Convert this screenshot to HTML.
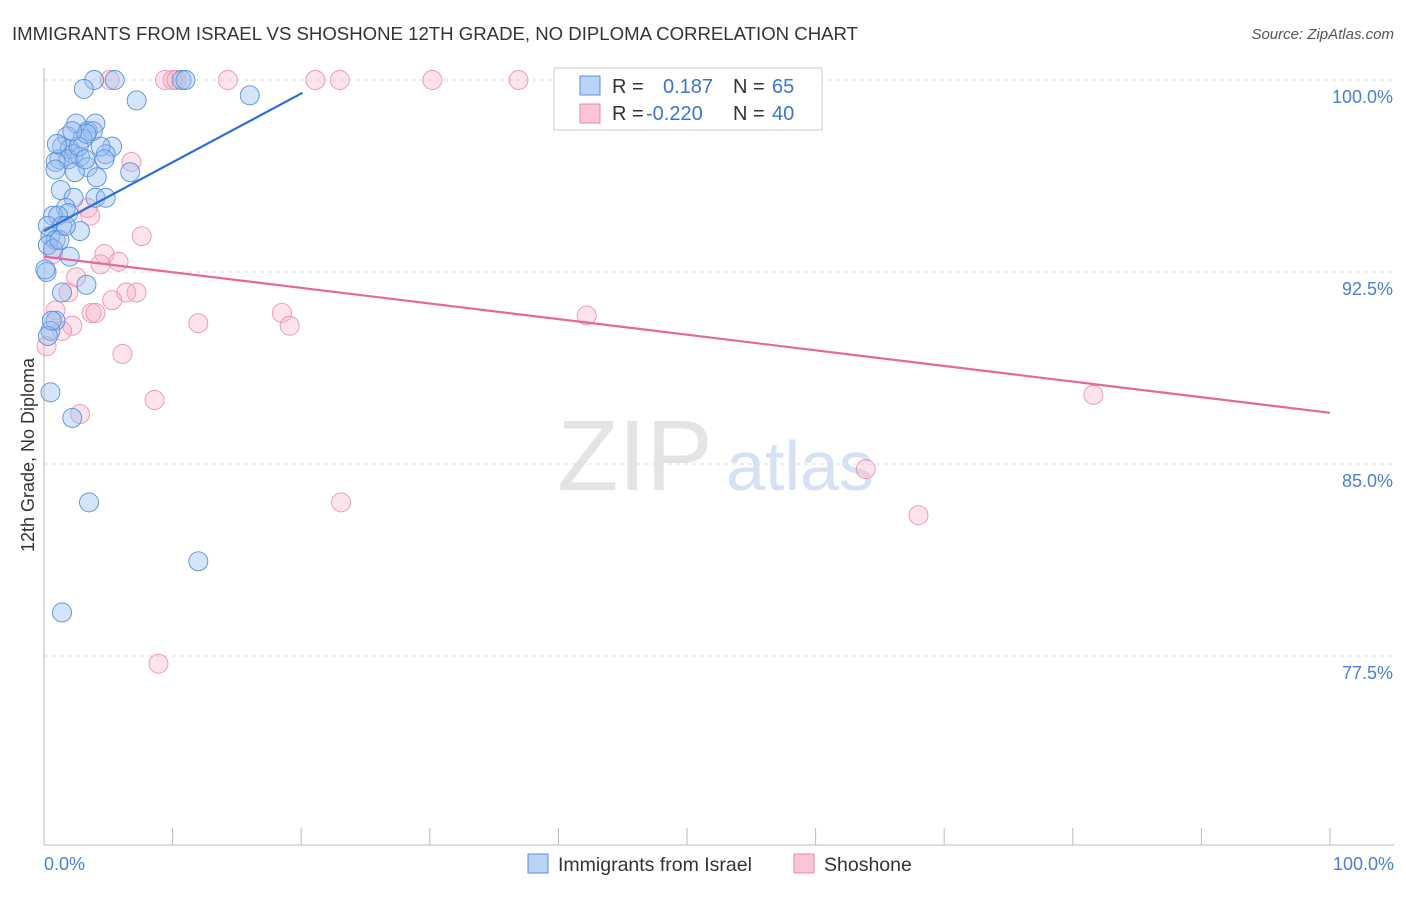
<!DOCTYPE html>
<html><head><meta charset="utf-8"><style>
body{margin:0;background:#fff;font-family:"Liberation Sans",sans-serif;}
svg text{font-family:"Liberation Sans",sans-serif;}
</style></head><body>
<svg id="c" width="1406" height="892">
<text x="12" y="40" font-size="18" fill="#333" textLength="846" lengthAdjust="spacingAndGlyphs">IMMIGRANTS FROM ISRAEL VS SHOSHONE 12TH GRADE, NO DIPLOMA CORRELATION CHART</text>
<text x="1394" y="39" font-size="15" fill="#555" text-anchor="end" font-style="italic">Source: ZipAtlas.com</text>
<text x="635" y="490" font-size="100" fill="#e4e4e4" font-family="Liberation Serif" text-anchor="middle">ZIP</text>
<text x="800" y="490" font-size="70" fill="#d6e2f3" text-anchor="middle">atlas</text>
<g id="grid"></g><g id="axes"></g><g id="pts"></g><g id="trend"></g>
<text x="34" y="455" font-size="18" fill="#333" text-anchor="middle" transform="rotate(-90 34 455)">12th Grade, No Diploma</text>
<text x="44" y="870" font-size="18" fill="#4a7fd4">0.0%</text>
<text x="1394" y="870" font-size="18" fill="#4a7fd4" text-anchor="end">100.0%</text>
<g>
<rect x="554" y="68" width="268" height="62" fill="#fff" stroke="#ccc"/>
<rect x="580" y="76" width="20" height="19" fill="#b8d3f4" stroke="#5b8fd8"/>
<rect x="580" y="104" width="20" height="19" fill="#fac6d4" stroke="#e88aa8"/>
<text x="612" y="93" font-size="20" fill="#333">R =</text><text x="663" y="93" font-size="20" fill="#3a74d0">0.187</text>
<text x="733" y="93" font-size="20" fill="#333">N =</text><text x="772" y="93" font-size="20" fill="#3a74d0">65</text>
<text x="612" y="120" font-size="20" fill="#333">R =</text><text x="646" y="120" font-size="20" fill="#3a74d0">-0.220</text>
<text x="733" y="120" font-size="20" fill="#333">N =</text><text x="772" y="120" font-size="20" fill="#3a74d0">40</text>
</g>
<g><rect x="528" y="854" width="20" height="19" fill="#b8d3f4" stroke="#5b8fd8"/><text x="558" y="871" font-size="19.5" fill="#333">Immigrants from Israel</text></g>
<g><rect x="794" y="854" width="20" height="19" fill="#fac6d4" stroke="#e88aa8"/><text x="824" y="871" font-size="19.5" fill="#333">Shoshone</text></g>
</svg>
<script>
const yTicks=[100,92.5,85,77.5];
const yTickLabels=["100.0%","92.5%","85.0%","77.5%"];
const xTicks=[0,10,20,30,40,50,60,70,80,90,100];
const blueX=[3.9,5.5,10.7,11.0,3.1,7.2,16.0,2.5,4.0,1.8,3.4,3.8,5.3,1.4,2.0,3.0,2.3,1.2,2.8,1.9,4.8,0.9,3.4,2.4,4.1,0.9,6.7,1.3,2.3,4.0,4.8,1.7,1.9,0.7,1.1,0.3,1.4,2.8,0.5,0.9,0.3,0.7,2.0,0.2,1.4,3.3,0.9,0.5,0.3,0.5,2.2,3.5,12.0,1.4,1.0,4.4,2.7,3.2,4.7,1.2,1.7,3.3,2.2,0.1,0.6];
const blueY=[100,100,100,100,99.65,99.2,99.4,98.3,98.3,97.8,98.0,98.0,97.4,97.4,97.3,97.7,97.1,96.9,97.0,96.9,97.1,96.8,96.6,96.4,96.2,96.5,96.4,95.7,95.4,95.4,95.4,95.0,94.8,94.7,94.7,94.3,94.3,94.1,93.9,93.75,93.55,93.4,93.1,92.5,91.7,92.0,90.6,90.2,90.0,87.8,86.8,83.5,81.2,79.2,97.5,97.4,97.4,96.9,96.9,93.75,94.3,97.9,98.0,92.6,90.6];
const pinkX=[5.1,9.4,10.0,10.3,14.3,21.1,23.0,30.2,36.9,6.8,3.4,3.6,7.6,0.7,4.7,5.8,4.4,2.5,1.9,7.2,6.4,5.3,3.7,4.0,0.9,18.5,12.0,19.1,2.2,42.2,6.1,0.2,8.6,2.8,81.6,63.9,23.1,68.0,8.9,1.4];
const pinkY=[100,100,100,100,100,100,100,100,100,96.8,95.0,94.7,93.9,93.2,93.2,92.9,92.8,92.3,91.7,91.7,91.7,91.4,90.9,90.9,91.0,90.9,90.5,90.4,90.4,90.8,89.3,89.6,87.5,86.95,87.7,84.8,83.5,83.0,77.2,90.2];
const blueTrend=[[0,94.1],[20.1,99.5]];
const pinkTrend=[[0,93.1],[100,87.0]];
const X=v=>44+v*12.86, Y=v=>80+(100-v)*25.6;
const NS="http://www.w3.org/2000/svg";
function mk(t,a,p){const e=document.createElementNS(NS,t);for(const k in a)e.setAttribute(k,a[k]);document.getElementById(p).appendChild(e);return e;}
yTicks.forEach((v,i)=>{
 const l=mk('line',{x1:44,x2:1394,y1:Y(v),y2:Y(v),stroke:'#ddd','stroke-dasharray':'4,4'},'grid');
 
 
 const t=mk('text',{x:1393,y:Y(v)+23,'font-size':18,fill:'#4a7fd4','text-anchor':'end'},'grid');
 t.textContent=yTickLabels[i];
 
 
});
const ax=mk('line',{x1:44,x2:1394,y1:845,y2:845,stroke:'#bbb'},'axes');


const ay=mk('line',{x1:44,x2:44,y1:68,y2:845,stroke:'#bbb'},'axes');


xTicks.forEach(v=>{const t=mk('line',{x1:X(v),x2:X(v),y1:828,y2:845,stroke:'#bbb'},'axes');
 
 });
pinkX.forEach((x,i)=>{const c=mk('circle',{cx:X(x),cy:Y(pinkY[i]),r:9.5,fill:'rgba(248,175,198,0.35)',stroke:'#eb94b0','stroke-width':0.9},'pts');
 
 });
blueX.forEach((x,i)=>{const c=mk('circle',{cx:X(x),cy:Y(blueY[i]),r:9.5,fill:'rgba(150,190,240,0.4)',stroke:'#5a8fd8','stroke-width':0.9},'pts');
 
 });
const bt=mk('line',{x1:X(blueTrend[0][0]),y1:Y(blueTrend[0][1]),x2:X(blueTrend[1][0]),y2:Y(blueTrend[1][1]),stroke:'#2a6fd6','stroke-width':2.2},'trend');


const pt=mk('line',{x1:X(pinkTrend[0][0]),y1:Y(pinkTrend[0][1]),x2:X(pinkTrend[1][0]),y2:Y(pinkTrend[1][1]),stroke:'#e5689a','stroke-width':2.2},'trend');


</script>
</body></html>
